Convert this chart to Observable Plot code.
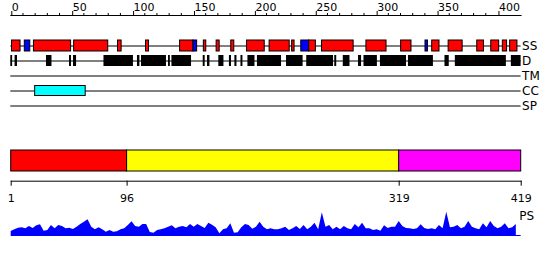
<!DOCTYPE html>
<html>
<head>
<meta charset="utf-8">
<script src="https://cdn.jsdelivr.net/npm/d3@7"></script>
<script src="https://cdn.jsdelivr.net/npm/@observablehq/plot@0.6"></script>
<style>
  html, body { margin: 0; padding: 0; background: #fff; }
  #chart svg { display: block; }
</style>
</head>
<body>
<div id="chart"></div>
<script>
// ---- data ----
const seqLength = 419;
const trackRows = ["SS", "D", "TM", "CC", "SP"];
const topMajorTicks = [0, 50, 100, 150, 200, 250, 300, 350, 400];
const topMinorTicks = [10, 20, 30, 40, 60, 70, 80, 90, 110, 120, 130, 140, 160, 170, 180, 190, 210, 220, 230, 240, 260, 270, 280, 290, 310, 320, 330, 340, 360, 370, 380, 390];

// secondary structure: H = helix, E = strand
const ssStarts = [1, 11.5, 19, 52, 88, 111, 139, 150, 158.5, 169, 181, 194, 212.5, 231, 238.5, 245, 255.5, 292, 320.5, 340.5, 346, 359.5, 383, 394.5, 404, 410];
const ssEnds   = [8, 16, 49.5, 80, 91, 113.5, 150, 153, 160.5, 171.5, 183.5, 208.5, 229, 233, 245, 250.5, 281.5, 308.5, 329, 342.5, 352, 371, 388.5, 401, 407.5, 416];
const ssTypes  = ["H","E","H","H","H","H","H","E","H","H","H","H","H","H","E","H","H","H","H","E","H","H","H","H","H","H"];

// disordered regions
const disStarts = [0, 3.5, 29.3, 48.2, 51.5, 76.5, 104, 107.3, 129.5, 132.3, 158, 161.5, 170.8, 179.5, 184, 189, 194.7, 202.5, 226.4, 243, 266, 273, 285.5, 290, 303.5, 326.5, 356.5, 365, 411];
const disEnds   = [1.5, 5.5, 33.8, 49.8, 54, 100.7, 106, 127.8, 131, 148.4, 159.6, 163.5, 175, 181.2, 185.7, 190.6, 200.5, 222.3, 240, 265, 267.6, 278.5, 288, 301, 324.9, 347, 360, 406.9, 419];

// coiled coil
const ccStarts = [20];
const ccEnds = [61.5];

// domain boundaries
const domainStarts = [1, 96, 319];
const domainEnds = [96, 319, 419];
const domainColors = ["#ff0000", "#ffff00", "#ff00ff"];
const domainTicks = [1, 96, 319, 419];

// profile (sampled every 3 residues from residue 1)
const profileValues = [
  4, 5.7, 7.3, 7.7, 6.7, 9, 7, 9.7, 10.7, 4.3,
  5, 10, 6.7, 10, 9, 6.7, 7.3, 6, 8.3, 11,
  13.3, 15.7, 8.3, 5.7, 7.7, 5.7, 3.3, 5, 3.3, 3.7,
  5.7, 6.7, 10, 13.7, 9, 8.3, 11, 11, 3, 2.3,
  5, 5.7, 6.7, 8.3, 9.7, 6.7, 8.3, 9, 7.7, 11,
  8.3, 11, 9, 7, 12.3, 10.3, 7.7, 1.7, 5.7, 6.7,
  11.7, 2.3, 2.7, 7.7, 11, 10, 6.3, 8.3, 13.3, 8.3,
  5.7, 6.7, 5.7, 5.7, 6.7, 8.3, 5, 6.7, 9, 6,
  10, 5.7, 8.3, 12.3, 5.7, 22.7, 8.3, 10, 5.7, 8.3,
  5.7, 9, 6.7, 5.7, 11, 7.7, 12.3, 6.7, 6.7, 5,
  5.7, 4.3, 9.7, 7, 8.3, 8.3, 14, 9, 7, 6.7,
  6, 6.7, 10.7, 7, 6, 6.7, 5.7, 10, 6.7, 23.3,
  7.7, 8.3, 10, 6.7, 8.3, 14, 8.3, 6.7, 5.7, 11.7,
  7.7, 14, 9, 6.7, 8.3, 11.7, 6.7, 7.7, 11
];
const profileStart = 1;
const profileStep = 3;

// ---- build tables ----
const ssData = ssStarts.map((s, i) => ({start: s, end: ssEnds[i], type: ssTypes[i]}));
const disData = disStarts.map((s, i) => ({start: s, end: disEnds[i]}));
const ccData = ccStarts.map((s, i) => ({start: s, end: ccEnds[i]}));
const domainData = domainStarts.map((s, i) => ({start: s, end: domainEnds[i], color: domainColors[i]}));
const profileData = profileValues.map((v, i) => ({pos: profileStart + i * profileStep, value: v}));

const font = {fontFamily: "'DejaVu Sans', sans-serif", fontSize: "11px", color: "#000", background: "#fff"};

const tracks = Plot.plot({
  width: 550, height: 115,
  marginTop: 15, marginBottom: 0, marginLeft: 10.3, marginRight: 29.4,
  style: font,
  x: {domain: [0, seqLength], axis: null},
  y: {type: "band", domain: trackRows, range: [37.5, 112.5], padding: 0, axis: null},
  marks: [
    Plot.frame({anchor: "top"}),
    Plot.axisX(topMajorTicks, {anchor: "top", tickSize: 5, tickPadding: 0, textAnchor: "start", dx: 1}),
    Plot.axisX(topMinorTicks, {anchor: "top", tickSize: 3, tickFormat: () => ""}),
    Plot.ruleY(trackRows, {y: d => d, x1: 0, x2: seqLength, stroke: "#000"}),
    Plot.barX(ssData, {x1: "start", x2: "end", y: () => "SS", fill: d => d.type === "H" ? "#ff0000" : "#0000ff", stroke: "#000", insetTop: 2, insetBottom: 2}),
    Plot.barX(disData, {x1: "start", x2: "end", y: () => "D", fill: "#000", insetTop: 2, insetBottom: 2}),
    Plot.barX(ccData, {x1: "start", x2: "end", y: () => "CC", fill: "#00ffff", stroke: "#000", insetTop: 2.5, insetBottom: 2.5}),
    Plot.text(trackRows, {x: seqLength, y: d => d, text: d => d, textAnchor: "start", dx: 1, fontSize: 12})
  ]
});

const domains = Plot.plot({
  width: 550, height: 90,
  marginTop: 35, marginBottom: 24.3, marginLeft: 10.7, marginRight: 29.3,
  style: font,
  x: {domain: [1, seqLength], axis: null},
  marks: [
    Plot.barX(domainData, {x1: "start", x2: "end", fill: "color", stroke: "#000", insetBottom: 9.7}),
    Plot.frame({anchor: "bottom"}),
    Plot.axisX(domainTicks, {anchor: "bottom", tickSize: 5, tickPadding: 7.5, tickFormat: d => String(d)})
  ]
});

const profile = Plot.plot({
  width: 550, height: 55,
  marginTop: 0, marginBottom: 25, marginLeft: 10.7, marginRight: 29.3,
  style: font,
  x: {domain: [1, seqLength], axis: null},
  y: {domain: [0, 30], axis: null},
  marks: [
    Plot.areaY(profileData, {x: "pos", y: "value", fill: "#0000ff"}),
    Plot.ruleY([0], {stroke: "#0000ff"}),
    Plot.text(["PS"], {frameAnchor: "top-right", text: d => d, textAnchor: "start", dx: -2, dy: 6, fontSize: 12})
  ]
});

const chart = document.getElementById("chart");
chart.append(tracks, domains, profile);
</script>
</body>
</html>
